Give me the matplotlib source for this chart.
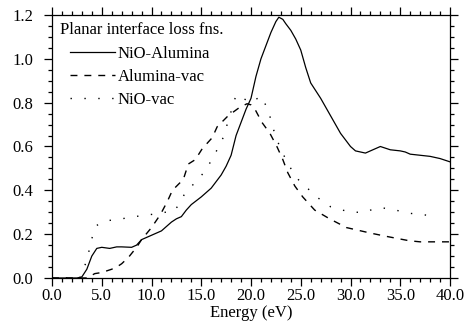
import matplotlib
matplotlib.use("Agg")
import matplotlib.pyplot as plt
from matplotlib.ticker import MultipleLocator, FormatStrFormatter

plt.rcParams['font.family'] = ['Liberation Serif', 'DejaVu Serif']
plt.rcParams['font.size'] = 12

# NiO-Alumina interface loss function
e_nio_al = [0.0, 2.5, 3.0, 3.5, 4.0, 4.5, 5.0, 5.8, 6.5, 7.0, 8.0, 8.5, 9.0, 10.0, 11.0,
            12.0, 12.5, 13.0, 13.5, 14.0, 15.0, 16.0, 17.0, 17.5, 18.0, 18.5, 19.0,
            19.5, 20.0, 20.5, 21.0, 21.5, 22.0, 22.5, 22.8, 23.2, 23.5, 24.0, 24.5,
            25.0, 25.5, 26.0, 27.0, 28.0, 29.0, 29.5, 30.0, 30.5, 31.0, 31.5, 32.0,
            33.0, 34.0, 35.0, 35.5, 36.0, 37.0, 38.0, 39.0, 40.0]
l_nio_al = [0.0, 0.0, 0.005, 0.04, 0.10, 0.135, 0.14, 0.135, 0.142, 0.142, 0.14, 0.15,
            0.175, 0.195, 0.215, 0.255, 0.27, 0.28, 0.31, 0.335, 0.37, 0.41, 0.47,
            0.51, 0.56, 0.65, 0.71, 0.77, 0.82, 0.92, 1.0, 1.06, 1.12, 1.17, 1.19,
            1.18, 1.16, 1.13, 1.09, 1.04, 0.96, 0.89, 0.82, 0.74, 0.66, 0.63, 0.60,
            0.58, 0.575, 0.57, 0.58, 0.60, 0.585, 0.58, 0.575, 0.565, 0.56, 0.555,
            0.545, 0.53]

# Alumina-vacuum interface loss function
e_al_vac = [0.0, 3.5, 4.3, 5.0, 6.0, 6.5, 7.0, 7.7, 8.5, 9.0, 10.0, 10.9, 11.6, 12.1,
            13.2, 13.7, 14.4, 15.1, 16.1, 16.6, 17.7, 18.9, 19.6, 20.0, 20.4, 21.1,
            21.9, 22.6, 23.2, 23.7, 24.4, 25.2, 26.4, 27.9, 29.6, 32.0, 33.6, 35.9,
            37.0, 40.0]
l_al_vac = [0.0, 0.0, 0.02, 0.025, 0.04, 0.05, 0.065, 0.095, 0.14, 0.175, 0.23, 0.29,
            0.35, 0.40, 0.45, 0.52, 0.54, 0.59, 0.64, 0.69, 0.74, 0.78, 0.795, 0.79,
            0.77, 0.71, 0.66, 0.60, 0.54, 0.48, 0.42, 0.37, 0.31, 0.27, 0.23, 0.205,
            0.19, 0.17, 0.165, 0.165]

# NiO-vacuum interface loss function
e_nio_vac = [0.0, 2.8, 3.5, 4.0, 4.5, 5.3, 7.0, 8.3, 10.0, 11.4, 12.1, 12.7, 13.4, 14.7,
             15.4, 16.2, 17.2, 18.0, 18.5, 19.2, 20.0, 21.0, 21.7, 22.5, 23.5, 24.5,
             25.9, 26.6, 27.2, 28.0, 30.0, 31.5, 32.3, 33.2, 34.5, 36.0, 37.0, 38.0]
l_nio_vac = [0.0, 0.0, 0.08, 0.18, 0.24, 0.26, 0.27, 0.28, 0.29, 0.30, 0.30, 0.33,
             0.39, 0.45, 0.49, 0.55, 0.64, 0.76, 0.835, 0.82, 0.80, 0.83, 0.77, 0.64,
             0.54, 0.46, 0.40, 0.37, 0.35, 0.325, 0.30, 0.30, 0.315, 0.32, 0.31,
             0.295, 0.29, 0.285]

fig = plt.figure(figsize=(4.69, 3.30), dpi=100)
ax = fig.add_axes([52/469, 52/330, 398/469, 263/330])

ax.plot(e_nio_al, l_nio_al, color='black', lw=0.9, label='NiO-Alumina')
ax.plot(e_al_vac, l_al_vac, color='black', lw=1.0, dashes=(5, 5), label='Alumina-vac')
ax.plot(e_nio_vac, l_nio_vac, color='black', lw=1.0, dashes=(1, 9), label='NiO-vac')

ax.set_xlim(0, 40)
ax.set_ylim(0, 1.2)
ax.xaxis.set_major_locator(MultipleLocator(5))
ax.xaxis.set_minor_locator(MultipleLocator(1))
ax.yaxis.set_major_locator(MultipleLocator(0.2))
ax.yaxis.set_minor_locator(MultipleLocator(0.05))
ax.xaxis.set_major_formatter(FormatStrFormatter('%.1f'))
ax.yaxis.set_major_formatter(FormatStrFormatter('%.1f'))
ax.tick_params(which='both', direction='out', top=True, right=True, width=0.9, colors='black')
ax.tick_params(which='major', length=5.5)
ax.tick_params(which='minor', length=3)
ax.tick_params(axis='x', which='major', pad=1.5)
ax.tick_params(axis='y', which='major', pad=8)
for s in ax.spines.values():
    s.set_linewidth(0.9)

ax.set_xlabel('Energy (eV)', labelpad=1)

# legend heading sits a little left of the entries
ax.text(0.02, 0.943, 'Planar interface loss fns.', transform=ax.transAxes,
        ha='left', va='center')
ax.legend(loc='upper left', bbox_to_anchor=(0.045, 0.882), frameon=False,
          handlelength=2.7, handletextpad=0.15, labelspacing=0.42,
          borderpad=0.0, borderaxespad=0.0)

fig.savefig('out.png', dpi=100)
